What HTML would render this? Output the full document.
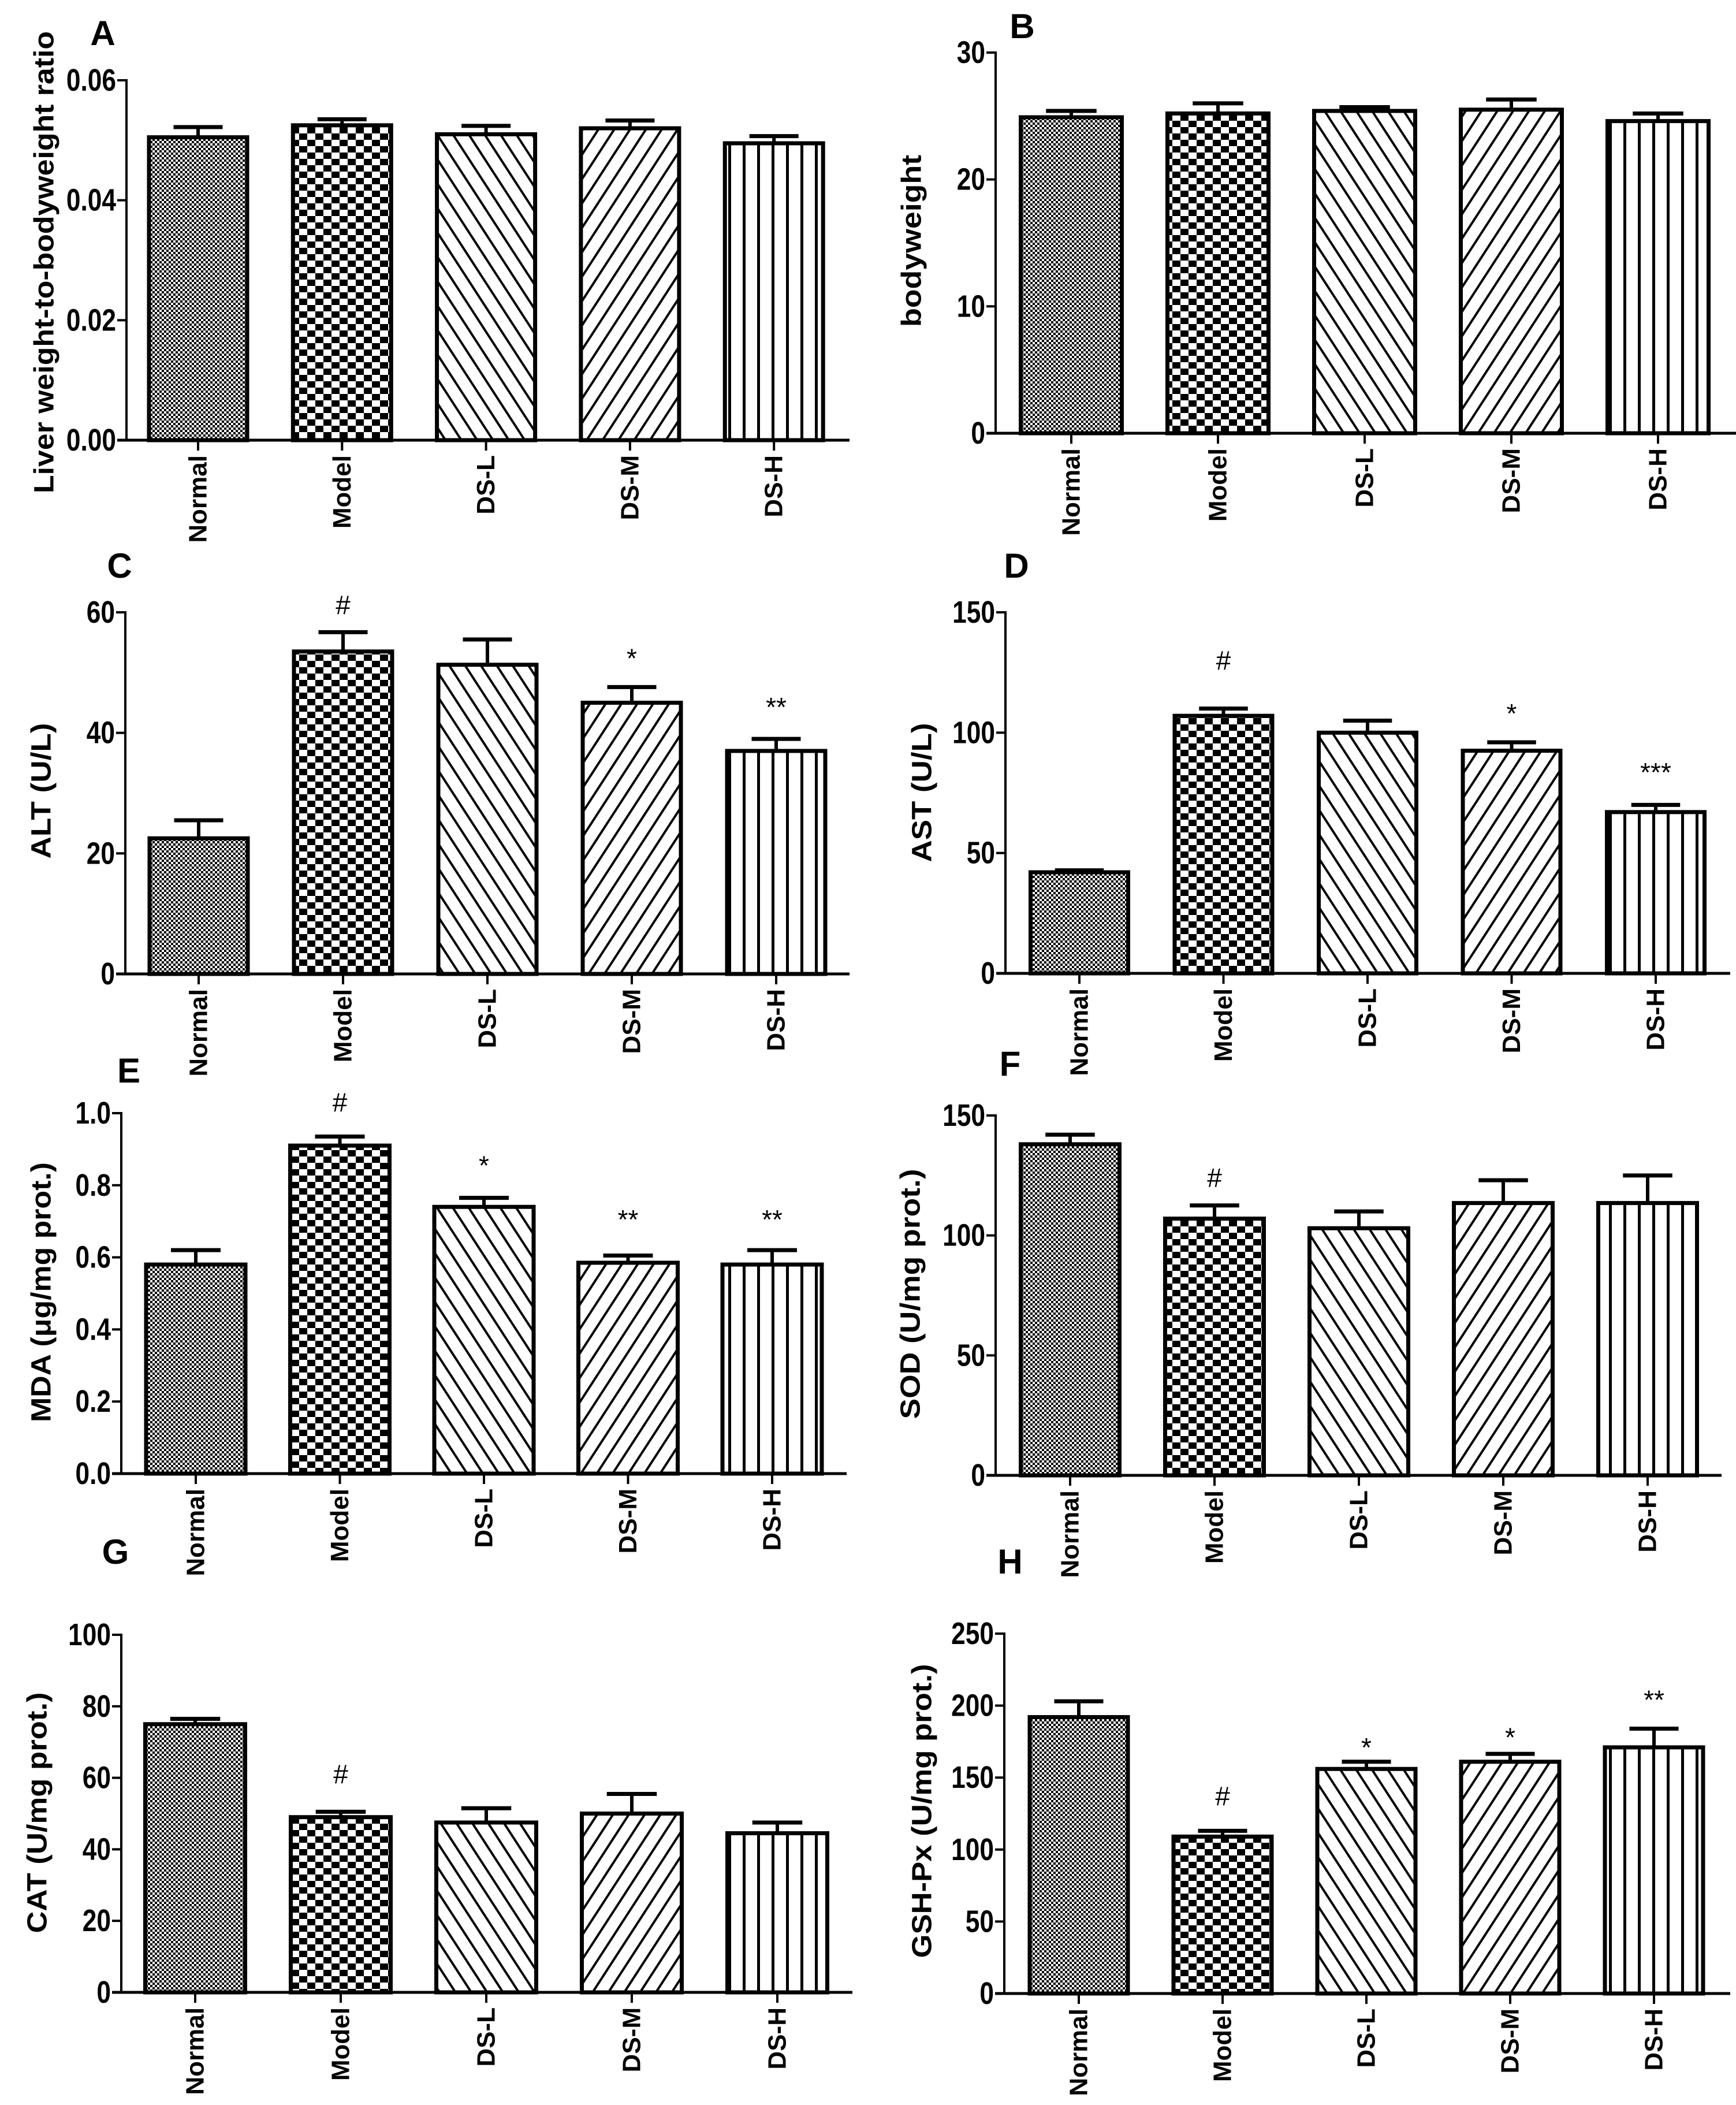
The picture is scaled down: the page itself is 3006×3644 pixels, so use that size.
<!DOCTYPE html>
<html><head><meta charset="utf-8"><title>Liver index and biochemical markers</title>
<style>
html,body{margin:0;padding:0;background:#fff;}
svg{display:block;}
text{font-family:"Liberation Sans",Arial,sans-serif;fill:#000;}
</style></head>
<body>
<svg id="fig" xmlns="http://www.w3.org/2000/svg" width="3006" height="3644" viewBox="0 0 3006 3644">
<defs>
<pattern id="pNormal" patternUnits="userSpaceOnUse" width="8" height="8"><rect width="8" height="8" fill="#fff"/><rect x="0" y="0" width="4" height="4" fill="#000"/><rect x="4" y="4" width="4" height="4" fill="#000"/></pattern>
<pattern id="pModel" patternUnits="userSpaceOnUse" width="28" height="22"><rect width="28" height="22" fill="#fff"/><rect x="0" y="0" width="14" height="11" fill="#000"/><rect x="14" y="11" width="14" height="11" fill="#000"/></pattern>
<pattern id="pDSL" patternUnits="userSpaceOnUse" width="23" height="30" patternTransform="rotate(-33)"><rect width="23" height="30" fill="#fff"/><rect x="0" y="0" width="4" height="30" fill="#000"/></pattern>
<pattern id="pDSM" patternUnits="userSpaceOnUse" width="23" height="30" patternTransform="rotate(33)"><rect width="23" height="30" fill="#fff"/><rect x="0" y="0" width="4" height="30" fill="#000"/></pattern>
<pattern id="pDSH" patternUnits="userSpaceOnUse" width="25" height="26"><rect width="25" height="26" fill="#fff"/><rect x="11" y="0" width="5" height="26" fill="#000"/></pattern>
</defs>
</svg>
<script>
// ---- shared data ----
const categories = ["Normal", "Model", "DS-L", "DS-M", "DS-H"];

// Panel A: Liver weight-to-bodyweight ratio
const aValues = [0.0505, 0.0525, 0.0510, 0.0520, 0.0495];
const aErrors = [0.0017, 0.0010, 0.0014, 0.0013, 0.0012];
const aTicks = [0, 0.02, 0.04, 0.06];
const aTickLabels = ["0.00", "0.02", "0.04", "0.06"];
const aMarks = ["", "", "", "", ""];
const aMarkValues = [0, 0, 0, 0, 0];

// Panel B: bodyweight
const bValues = [24.9, 25.2, 25.4, 25.5, 24.6];
const bErrors = [0.5, 0.8, 0.3, 0.8, 0.6];
const bTicks = [0, 10, 20, 30];
const bTickLabels = ["0", "10", "20", "30"];
const bMarks = ["", "", "", "", ""];
const bMarkValues = [0, 0, 0, 0, 0];

// Panel C: ALT
const cValues = [22.5, 53.5, 51.3, 45.0, 37.0];
const cErrors = [3.0, 3.2, 4.2, 2.6, 2.0];
const cTicks = [0, 20, 40, 60];
const cTickLabels = ["0", "20", "40", "60"];
const cMarks = ["", "#", "", "*", "**"];
const cMarkValues = [0, 61.2, 0, 52.4, 44.3];

// Panel D: AST
const dValues = [42, 107, 100, 92.5, 67];
const dErrors = [0.8, 3, 5, 3.5, 3];
const dTicks = [0, 50, 100, 150];
const dTickLabels = ["0", "50", "100", "150"];
const dMarks = ["", "#", "", "*", "***"];
const dMarkValues = [0, 130, 0, 108, 83.5];

// Panel E: MDA
const eValues = [0.58, 0.91, 0.74, 0.585, 0.58];
const eErrors = [0.04, 0.025, 0.025, 0.02, 0.04];
const eTicks = [0, 0.2, 0.4, 0.6, 0.8, 1.0];
const eTickLabels = ["0.0", "0.2", "0.4", "0.6", "0.8", "1.0"];
const eMarks = ["", "#", "*", "**", "**"];
const eMarkValues = [0, 1.03, 0.855, 0.705, 0.705];

// Panel F: SOD
const fValues = [138, 107, 103, 113.5, 113.5];
const fErrors = [4, 5.5, 7, 9.5, 11.5];
const fTicks = [0, 50, 100, 150];
const fTickLabels = ["0", "50", "100", "150"];
const fMarks = ["", "#", "", "", ""];
const fMarkValues = [0, 124, 0, 0, 0];

// Panel G: CAT
const gValues = [75, 49, 47.5, 50, 44.5];
const gErrors = [1.5, 1.5, 4, 5.5, 3];
const gTicks = [0, 20, 40, 60, 80, 100];
const gTickLabels = ["0", "20", "40", "60", "80", "100"];
const gMarks = ["", "#", "", "", ""];
const gMarkValues = [0, 61, 0, 0, 0];

// Panel H: GSH-Px
const hValues = [192, 109, 156, 161, 171];
const hErrors = [11, 4, 5, 5.5, 13];
const hTicks = [0, 50, 100, 150, 200, 250];
const hTickLabels = ["0", "50", "100", "150", "200", "250"];
const hMarks = ["", "#", "*", "*", "**"];
const hMarkValues = [0, 137, 171, 178, 204];

const patterns = ["url(#pNormal)", "url(#pModel)", "url(#pDSL)", "url(#pDSM)", "url(#pDSH)"];
const NS = "http://www.w3.org/2000/svg";
const svg = document.getElementById("fig");

function mk(tag, attrs, parent) {
  const e = document.createElementNS(NS, tag);
  for (const k in attrs) e.setAttribute(k, attrs[k]);
  (parent || svg).appendChild(e);
  return e;
}

const panels = [
  {id:"a", letter:"A", lx:178, ly:78, title:"Liver weight-to-bodyweight ratio", tx:77, ty:454, tlen:800,
   axisX:219, yTop:139, yBase:762, max:0.06, c0:343, step:249.3, bw:170, xEnd:1471,
   vals:aValues, errs:aErrors, ticks:aTicks, tl:aTickLabels, marks:aMarks, mv:aMarkValues},
  {id:"b", letter:"B", lx:1770, ly:66, title:"bodyweight", tx:1579, ty:417, tlen:298,
   axisX:1724, yTop:91, yBase:750, max:30, c0:1855, step:254, bw:175, xEnd:3006,
   vals:bValues, errs:bErrors, ticks:bTicks, tl:bTickLabels, marks:bMarks, mv:bMarkValues},
  {id:"c", letter:"C", lx:207, ly:1000, title:"ALT (U/L)", tx:72, ty:1369, tlen:235,
   axisX:217, yTop:1060, yBase:1686, max:60, c0:344, step:250, bw:170, xEnd:1471,
   vals:cValues, errs:cErrors, ticks:cTicks, tl:cTickLabels, marks:cMarks, mv:cMarkValues},
  {id:"d", letter:"D", lx:1760, ly:1000, title:"AST (U/L)", tx:1597, ty:1372, tlen:241,
   axisX:1741, yTop:1060, yBase:1685, max:150, c0:1869, step:249.5, bw:169, xEnd:2996,
   vals:dValues, errs:dErrors, ticks:dTicks, tl:dTickLabels, marks:dMarks, mv:dMarkValues},
  {id:"e", letter:"E", lx:223, ly:1874, title:"MDA (μg/mg prot.)", tx:72, ty:2237, tlen:450,
   axisX:210, yTop:1927, yBase:2551, max:1.0, c0:339, step:249.5, bw:172, xEnd:1466,
   vals:eValues, errs:eErrors, ticks:eTicks, tl:eTickLabels, marks:eMarks, mv:eMarkValues},
  {id:"f", letter:"F", lx:1749, ly:1862, title:"SOD (U/mg prot.)", tx:1577, ty:2240, tlen:433,
   axisX:1724, yTop:1931, yBase:2554, max:150, c0:1853, step:250, bw:171, xEnd:2981,
   vals:fValues, errs:fErrors, ticks:fTicks, tl:fTickLabels, marks:fMarks, mv:fMarkValues},
  {id:"g", letter:"G", lx:200, ly:2707, title:"CAT (U/mg prot.)", tx:65, ty:3138, tlen:417,
   axisX:210, yTop:2830, yBase:3449, max:100, c0:338, step:252, bw:173, xEnd:1476,
   vals:gValues, errs:gErrors, ticks:gTicks, tl:gTickLabels, marks:gMarks, mv:gMarkValues},
  {id:"h", letter:"H", lx:1749, ly:2724, title:"GSH-Px (U/mg prot.)", tx:1597, ty:3135, tlen:509,
   axisX:1739, yTop:2828, yBase:3451, max:250, c0:1868, step:249, bw:170, xEnd:2996,
   vals:hValues, errs:hErrors, ticks:hTicks, tl:hTickLabels, marks:hMarks, mv:hMarkValues}
];

panels.forEach(p => {
  const g = mk("g", {});
  
  
  const yScale = v => p.yBase - (v / p.max) * (p.yBase - p.yTop);
  const xCenter = i => p.c0 + i * p.step;

  const L = mk("text", {x:p.lx, y:p.ly, "font-size":60, "font-weight":"bold", "text-anchor":"middle"}, g);
  L.textContent = p.letter;
  
  

  const T = mk("text", {x:0, y:0, "font-size":48, "font-weight":"bold", "text-anchor":"middle",
    "dominant-baseline":"central", textLength:p.tlen, lengthAdjust:"spacingAndGlyphs",
    transform:`translate(${p.tx},${p.ty}) rotate(-90)`}, g);
  T.textContent = p.title;
  
  

  p.vals.forEach((v, i) => {
    const cx = xCenter(i), top = yScale(v);
    const r = mk("rect", {x:cx - p.bw/2, y:top, width:p.bw, height:p.yBase - top,
      fill:patterns[i], stroke:"#000", "stroke-width":7}, g);
    
    
    const et = yScale(v + p.errs[i]);
    const e1 = mk("line", {x1:cx, x2:cx, y1:top, y2:et, stroke:"#000", "stroke-width":6}, g);
    
    
    const e2 = mk("line", {x1:cx - p.bw*0.25, x2:cx + p.bw*0.25, y1:et, y2:et, stroke:"#000", "stroke-width":7}, g);
    
    
    if (p.marks[i]) {
      const m = mk("text", {x:cx, y:yScale(p.mv[i]), "font-size":46, "text-anchor":"middle",
        "dominant-baseline":"central"}, g);
      m.textContent = p.marks[i];
      
      
    }
    const xt = mk("line", {x1:cx, x2:cx, y1:p.yBase, y2:p.yBase + 18, stroke:"#000", "stroke-width":4}, g);
    
    
    const xl = mk("text", {x:0, y:0, "font-size":44, "font-weight":"bold", "text-anchor":"end",
      "dominant-baseline":"central", transform:`translate(${cx},${p.yBase + 26}) rotate(-90)`}, g);
    xl.textContent = categories[i];
    
    
  });

  const ya = mk("line", {x1:p.axisX, x2:p.axisX, y1:p.yTop - 2, y2:p.yBase, stroke:"#000", "stroke-width":4}, g);
  
  
  const xa = mk("line", {x1:p.axisX - 16, x2:p.xEnd, y1:p.yBase, y2:p.yBase, stroke:"#000", "stroke-width":5}, g);
  
  

  p.ticks.forEach((t, k) => {
    const y = yScale(t);
    const tk = mk("line", {x1:p.axisX - 16, x2:p.axisX, y1:y, y2:y, stroke:"#000", "stroke-width":4}, g);
    
    
    const tl = mk("text", {x:p.axisX - 18, y:y, "font-size":54, "font-weight":"bold", "text-anchor":"end",
      "dominant-baseline":"central", transform:`translate(${p.axisX - 18},${y}) scale(0.82,1) translate(${-(p.axisX - 18)},${-y})`}, g);
    tl.textContent = p.tl[k];
    
    
  });
});
</script>
</body></html>
